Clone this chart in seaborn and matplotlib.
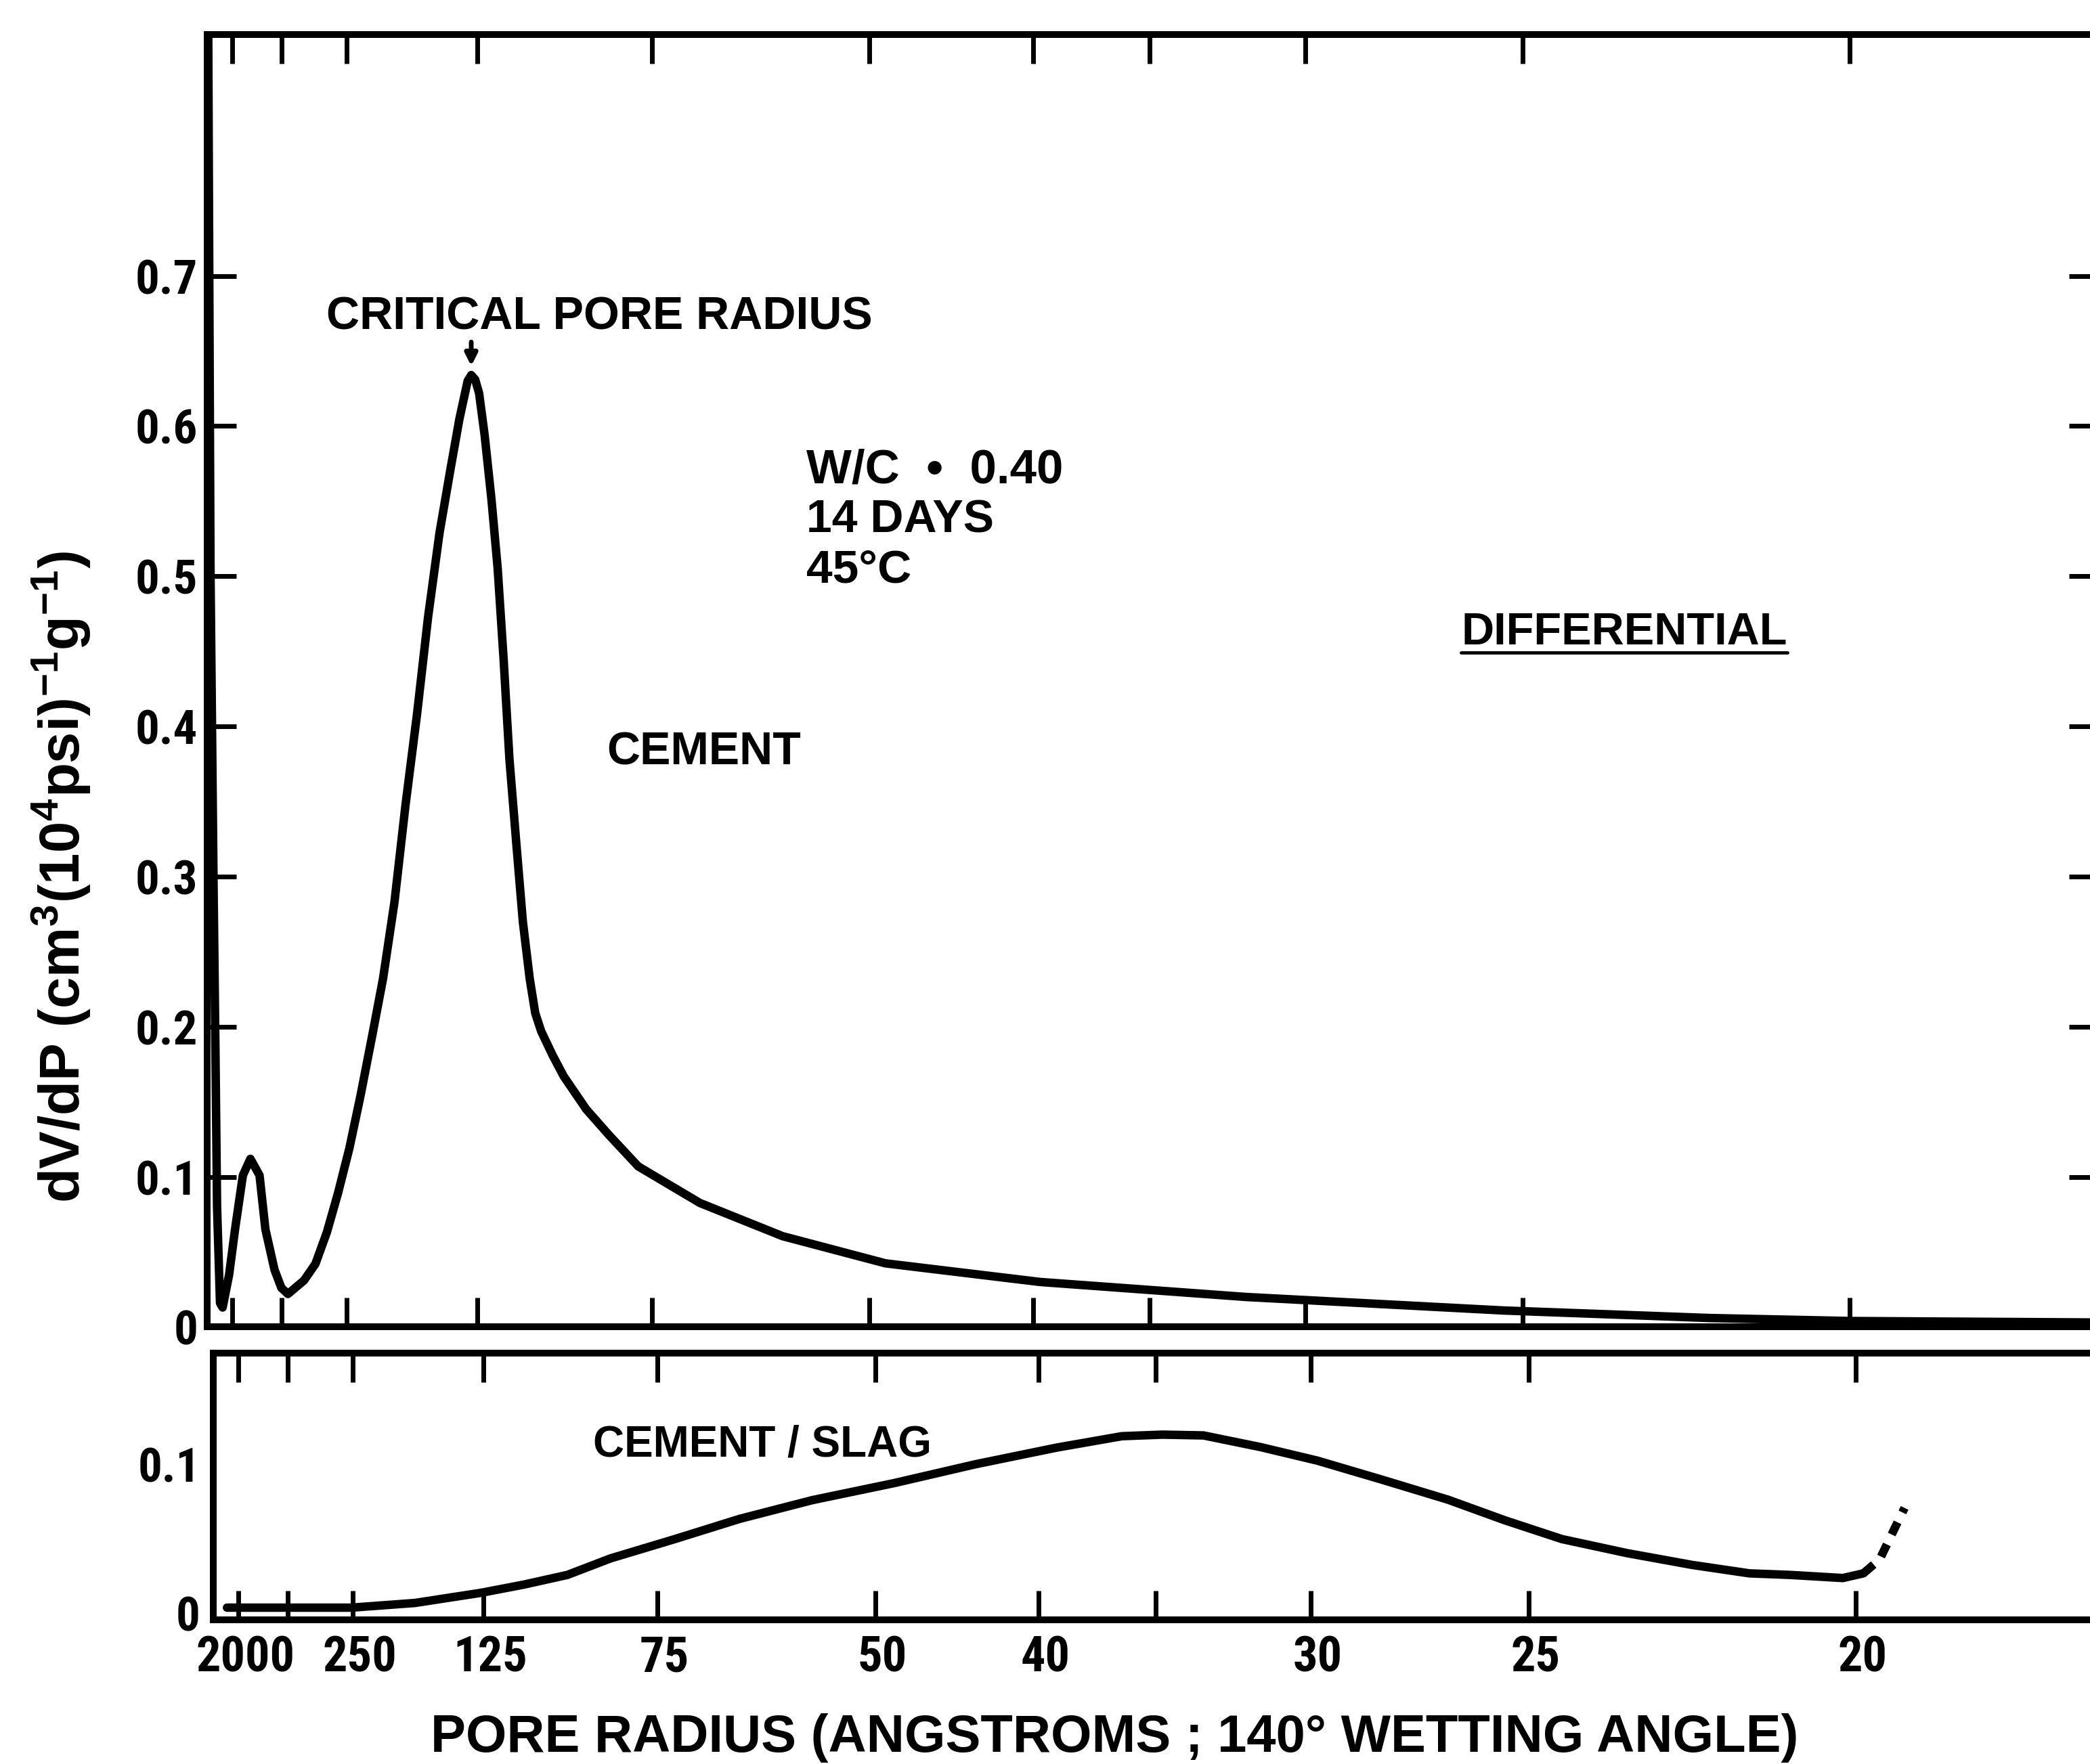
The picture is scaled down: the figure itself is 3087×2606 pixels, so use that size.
import matplotlib
matplotlib.use("Agg")
import matplotlib.pyplot as plt
from matplotlib import font_manager
from matplotlib.lines import Line2D
from matplotlib.patches import FancyArrowPatch
from matplotlib.transforms import ScaledTranslation
import seaborn as sns

# ---------------------------------------------------------------------------
# Data. The horizontal axis is linear in intrusion pressure, i.e. in 1000 / r
# (r = pore radius in angstroms); ticks are labelled with the radius.
# ---------------------------------------------------------------------------
tick_radii = [2000, 500, 250, 125, 75, 50, 40, 35, 30, 25, 20]
tick_labels = ["2000", "", "250", "125", "75", "50", "40", "", "30", "25", "20"]

# Differential curve, plain cement paste (x = 1000 / r)
cement_x = [-0.24, -0.17, -0.08, -0.02, 0.03, 0.12, 0.20, 0.40, 0.58, 0.82,
            1.05, 1.33, 1.51, 1.79, 2.00, 2.20, 2.69, 3.04, 3.39, 3.73,
            4.08, 4.42, 4.77, 5.11, 5.46, 5.80, 6.15, 6.49, 6.84, 7.18,
            7.45, 7.62, 7.70, 7.81, 7.93, 8.05, 8.22, 8.43, 8.62, 8.80,
            8.98, 9.19, 9.39, 9.60, 9.77, 9.95, 10.30, 10.64, 11.33, 12.02,
            12.92, 14.81, 17.34, 20.49, 25.22, 31.53, 39.41, 45.70, 50.00, 57.60]
cement_y = [0.861, 0.500, 0.300, 0.185, 0.080, 0.016, 0.013, 0.035, 0.065, 0.101,
            0.112, 0.101, 0.065, 0.038, 0.026, 0.022, 0.031, 0.042, 0.063, 0.089,
            0.119, 0.154, 0.193, 0.232, 0.283, 0.348, 0.408, 0.473, 0.529, 0.572,
            0.605, 0.622, 0.630, 0.634, 0.631, 0.622, 0.594, 0.551, 0.505, 0.445,
            0.378, 0.322, 0.270, 0.232, 0.209, 0.197, 0.181, 0.167, 0.145, 0.128,
            0.107, 0.0826, 0.0605, 0.0424, 0.030, 0.020, 0.011, 0.006, 0.004, 0.003]

# Differential curve, cement / slag paste
slag_x = [0.15, 3.96, 5.90, 7.92, 9.24, 10.57, 11.89, 13.86, 15.85, 18.07,
          20.57, 23.06, 25.55, 27.54, 28.78, 30.04, 31.79, 33.53, 35.52, 37.52,
          39.27, 41.01, 43.00, 45.00, 46.75, 47.99, 49.61, 50.24]
slag_y = [0.008, 0.008, 0.011, 0.0175, 0.0228, 0.029, 0.0396, 0.052, 0.065, 0.077,
          0.0879, 0.100, 0.1107, 0.118, 0.119, 0.1185, 0.111, 0.1023, 0.090, 0.0773,
          0.064, 0.052, 0.043, 0.0354, 0.030, 0.029, 0.027, 0.030]
# extrapolated end of the cement / slag curve (dashed)
slag_dash_x = [50.24, 50.74, 51.13, 51.50]
slag_dash_y = [0.030, 0.039, 0.056, 0.072]

top_yticks = [0, 0.1, 0.2, 0.3, 0.4, 0.5, 0.6, 0.7]
top_yticklabels = ["0", "0.1", "0.2", "0.3", "0.4", "0.5", "0.6", "0.7"]
bot_yticks = [0, 0.1]
bot_yticklabels = ["0", "0.1"]

# ---------------------------------------------------------------------------
# Style
# ---------------------------------------------------------------------------
sns.set_theme(style="white")
available = {f.name for f in font_manager.fontManager.ttflist}


def pick(cands):
    for c in cands:
        if c in available:
            return c
    return "DejaVu Sans"


FONT = pick(["Liberation Sans", "Noto Sans", "DejaVu Sans"])
FONT_NARROW = pick(["Liberation Sans Narrow", "DejaVu Sans Condensed", "Roboto Condensed",
                    "Liberation Sans"])
plt.rcParams["font.family"] = [FONT, "DejaVu Sans"]
plt.rcParams["font.weight"] = "bold"
plt.rcParams["mathtext.fontset"] = "custom"
plt.rcParams["mathtext.rm"] = f"{FONT}:bold"
plt.rcParams["mathtext.default"] = "rm"
plt.rcParams["text.color"] = "black"
plt.rcParams["axes.edgecolor"] = "black"
plt.rcParams["xtick.color"] = "black"
plt.rcParams["ytick.color"] = "black"

W, H = 1568.0, 1324.0


def fx(px):
    return px / W


def fy(py):
    return 1.0 - py / H


fig = plt.figure(figsize=(30.87, 26.06), dpi=100)
fig.patch.set_facecolor("white")

XLIM = (-0.27, 57.6)
ax_top = fig.add_axes([0.09917, 0.24773, 0.90459, 0.73263])
ax_bot = fig.add_axes([0.10204, 0.08157, 0.90459, 0.15144])

LW_CURVE = 9
LW_SPINE = 7.2
TICK_LEN = 31
TICK_W = 5

xt = [1000.0 / r for r in tick_radii]

# --- top panel: cement -----------------------------------------------------
sns.lineplot(x=cement_x, y=cement_y, ax=ax_top, color="black", linewidth=LW_CURVE,
             estimator=None, sort=False, legend=False)
ax_top.lines[-1].set_solid_joinstyle("round")
ax_top.lines[-1].set_solid_capstyle("round")
ax_top.set_xlim(*XLIM)
ax_top.set_ylim(0, 0.8607)
ax_top.set_xticks(xt)
ax_top.set_xticklabels([])
ax_top.set_yticks(top_yticks)
ax_top.set_yticklabels(top_yticklabels, fontfamily=FONT_NARROW)
ax_top.tick_params(axis="x", direction="in", top=True, bottom=True, length=TICK_LEN,
                   width=TICK_W, labelbottom=False)
ax_top.tick_params(axis="y", direction="in", left=True, right=True, length=TICK_LEN,
                   width=TICK_W, labelsize=51, pad=10, labelright=False)

# pointer to the critical pore radius: the main peak (beyond the small
# coarse-pore peak near the origin)
main = [i for i, x in enumerate(cement_x) if x > 3]
ipk = max(main, key=lambda i: cement_y[i])
pointer = FancyArrowPatch((cement_x[ipk], cement_y[ipk] + 0.022),
                          (cement_x[ipk], cement_y[ipk] + 0.006),
                          transform=ax_top.transData, arrowstyle="-|>",
                          mutation_scale=26, color="black", lw=5.0,
                          shrinkA=0, shrinkB=0, zorder=5, clip_on=False)
ax_top.add_patch(pointer)

# --- bottom panel: cement / slag ------------------------------------------
sns.lineplot(x=slag_x, y=slag_y, ax=ax_bot, color="black", linewidth=LW_CURVE,
             estimator=None, sort=False, legend=False)
ax_bot.lines[-1].set_solid_joinstyle("round")
sns.lineplot(x=slag_dash_x, y=slag_dash_y, ax=ax_bot, color="black", linewidth=LW_CURVE,
             estimator=None, sort=False, legend=False)
ax_bot.lines[-1].set_dashes([1.6, 1.3])
ax_bot.set_xlim(*XLIM)
ax_bot.set_ylim(0, 0.1714)
ax_bot.set_xticks(xt)
ax_bot.set_xticklabels(tick_labels, fontfamily=FONT_NARROW)
ax_bot.set_yticks(bot_yticks)
ax_bot.set_yticklabels(bot_yticklabels, fontfamily=FONT_NARROW)
ax_bot.tick_params(axis="x", direction="in", top=True, bottom=True, length=TICK_LEN,
                   width=TICK_W, labelsize=52, pad=16)
ax_bot.tick_params(axis="y", left=True, length=0, labelsize=51, pad=14)

# radius labels sit a little right of their ticks; the "0" sits a little high
for lab in ax_bot.get_xticklabels():
    lab.set_transform(lab.get_transform() + ScaledTranslation(0.10, 0, fig.dpi_scale_trans))
zero_lab = ax_bot.get_yticklabels()[0]
zero_lab.set_transform(zero_lab.get_transform() + ScaledTranslation(0, 0.10, fig.dpi_scale_trans))

for ax in (ax_top, ax_bot):
    ax.set_xlabel("")
    ax.set_ylabel("")
    ax.grid(False)
    ax.set_facecolor("white")
    for sp in ax.spines.values():
        sp.set_visible(True)
        sp.set_linewidth(LW_SPINE)
        sp.set_color("black")

# --- annotations -----------------------------------------------------------
fig.text(fx(245), fy(247), "CRITICAL PORE RADIUS", fontsize=49, ha="left", va="baseline")
fig.text(fx(605), fy(362.5), "W/C  \u2022  0.40", fontsize=51, ha="left", va="baseline")
fig.text(fx(605), fy(399.5), "14 DAYS", fontsize=49, ha="left", va="baseline")
fig.text(fx(605), fy(437), "45\u00b0C", fontsize=50, ha="left", va="baseline")
fig.text(fx(455), fy(574), "CEMENT", fontsize=49, ha="left", va="baseline")
fig.text(fx(1096.5), fy(483.5), "DIFFERENTIAL", fontsize=48, ha="left", va="baseline")
fig.add_artist(Line2D([fx(1096), fx(1341)], [fy(490), fy(490)], transform=fig.transFigure,
                      color="black", lw=3.5))
fig.text(fx(445), fy(1093), "CEMENT / SLAG", fontsize=46, ha="left", va="baseline")

fig.text(fx(836), fy(1315), "PORE RADIUS (ANGSTROMS ; 140\u00b0 WETTING ANGLE)",
         fontsize=56, ha="center", va="baseline")
fig.text(fx(46), fy(658), r"dV/dP (cm$^{3}$(10$^{4}$psi)$^{-1}$g$^{-1}$)",
         fontsize=60, rotation=90, ha="center", va="center")

fig.savefig("out.png", dpi=100, facecolor="white")
